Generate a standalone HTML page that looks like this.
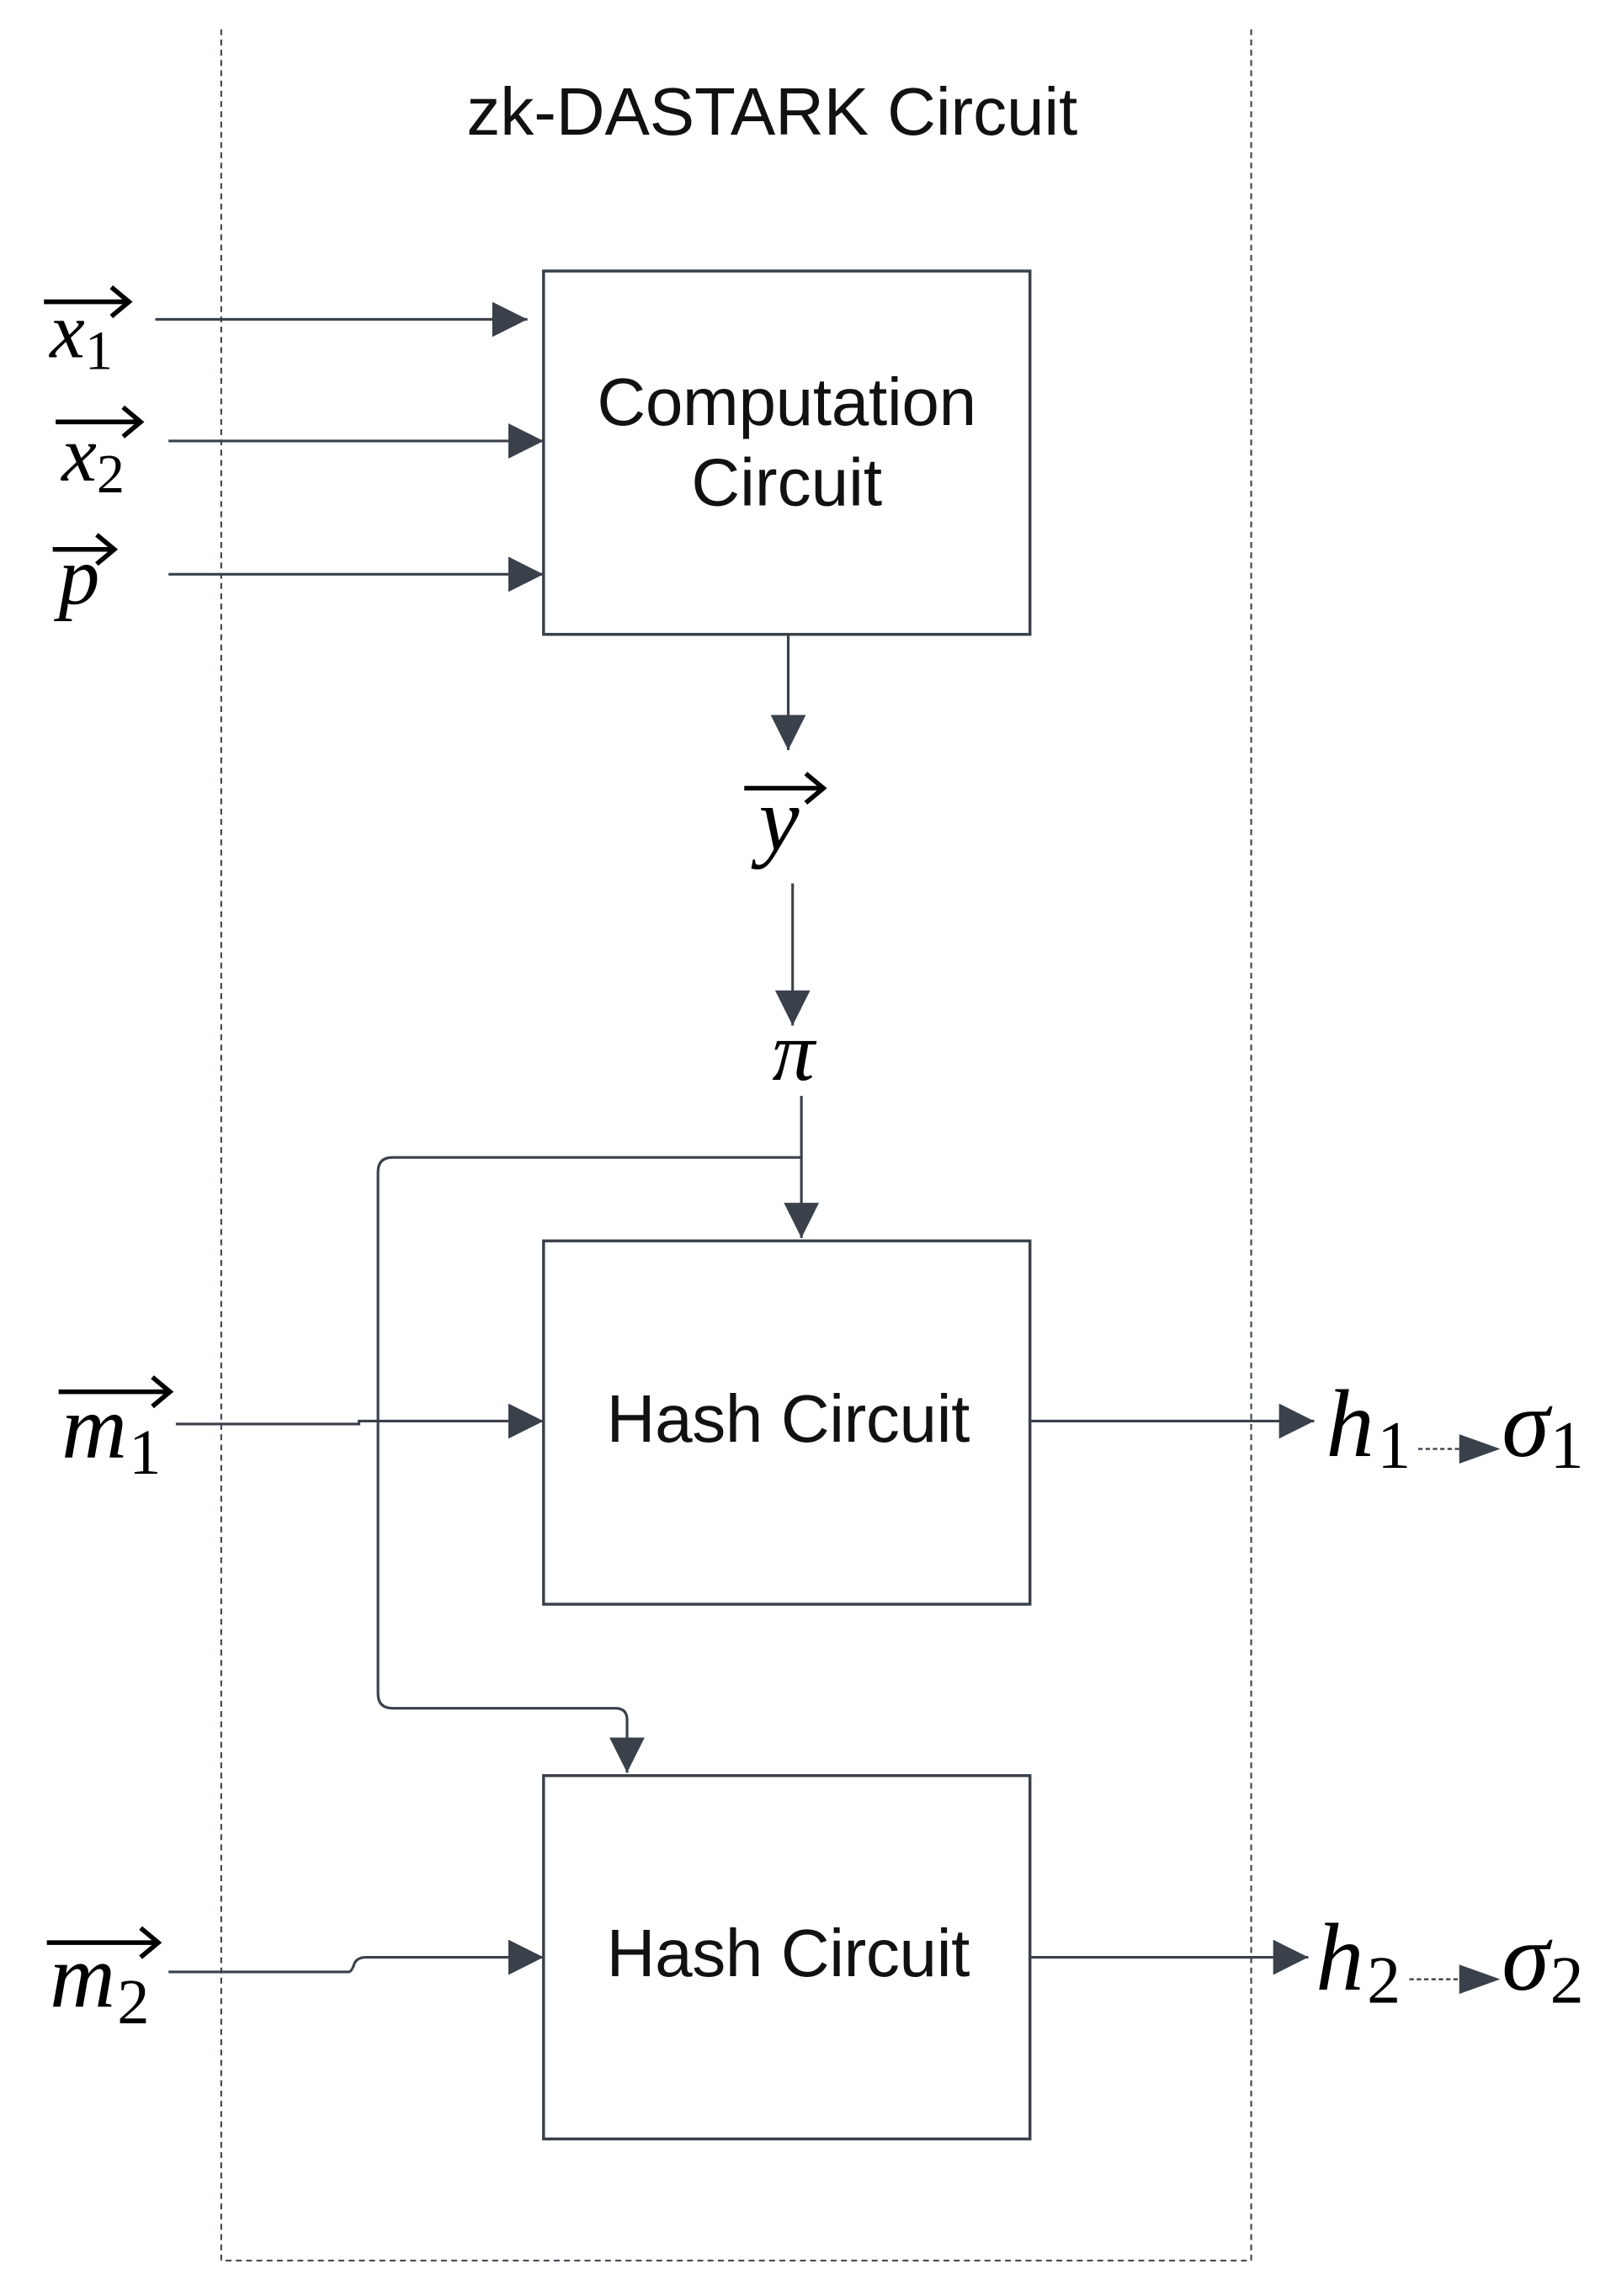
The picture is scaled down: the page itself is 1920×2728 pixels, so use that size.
<!DOCTYPE html>
<html><head><meta charset="utf-8"><style>
html,body{margin:0;padding:0;background:#fff;}
svg{display:block;}
.s{font-family:"Liberation Sans",sans-serif;fill:#111;}
.m{font-family:"Liberation Serif",serif;font-style:italic;fill:#000;}
.n{font-family:"Liberation Serif",serif;fill:#000;}
</style></head><body>
<svg width="1920" height="2728" viewBox="0 0 1103 1567.2" preserveAspectRatio="none" xmlns="http://www.w3.org/2000/svg">
<defs>
<marker id="A" viewBox="0 0 10 10" refX="10" refY="5" markerWidth="30" markerHeight="24" markerUnits="userSpaceOnUse" orient="auto"><path d="M0,0 L10,5 L0,10 z" fill="#3a414b"/></marker>
</defs>
<g stroke="#3a414b" stroke-width="1.2" fill="none" stroke-dasharray="4,3">
<path d="M151,20 V1543 H854 V20"/>
</g>
<text class="s" x="527" y="92" font-size="46" text-anchor="middle" textLength="417">zk-DASTARK Circuit</text>
<g stroke="#3a414b" stroke-width="2" fill="none">
<rect x="371" y="185" width="332" height="248"/>
<rect x="371" y="847" width="332" height="248"/>
<rect x="371" y="1212" width="332" height="248"/>
</g>
<text class="s" x="537" y="290" font-size="46" text-anchor="middle" textLength="259">Computation</text>
<text class="s" x="537" y="345" font-size="46" text-anchor="middle">Circuit</text>
<text class="s" x="538" y="984" font-size="46" text-anchor="middle" textLength="248">Hash Circuit</text>
<text class="s" x="538" y="1349" font-size="46" text-anchor="middle" textLength="248">Hash Circuit</text>
<g stroke="#3a414b" stroke-width="1.8" fill="none">
<path d="M106,218 H360" marker-end="url(#A)"/>
<path d="M115,301 H371" marker-end="url(#A)"/>
<path d="M115,392 H371" marker-end="url(#A)"/>
<path d="M538,433 V512" marker-end="url(#A)"/>
<path d="M541,603 V700" marker-end="url(#A)"/>
<path d="M547,748 V845" marker-end="url(#A)"/>
<path d="M547,790 H268 Q258,790 258,800 V1156 Q258,1166 268,1166 H420 Q428,1166 428,1174 V1210" marker-end="url(#A)"/>
<path d="M120,972 H245 V970 H371" marker-end="url(#A)"/>
<path d="M115,1346 H238 Q240,1346 242,1340 Q244,1336 250,1336 H371" marker-end="url(#A)"/>
<path d="M703,970 H897" marker-end="url(#A)"/>
<path d="M703,1336 H893" marker-end="url(#A)"/>
</g>
<g stroke="#3a414b" stroke-width="1.4" fill="none" stroke-dasharray="3,2">
<path d="M968,989 H1000"/>
<path d="M962,1351 H1000"/>
</g>
<g fill="#3a414b">
<path d="M996,979 L1024,989 L996,999 z"/>
<path d="M996,1341 L1024,1351 L996,1361 z"/>
</g>
<g stroke="#000" stroke-width="3.2" fill="none" stroke-linecap="butt">
<path d="M30,206 H86 M76,196 L88,206 L76,216"/>
<path d="M38,288 H94 M84,278 L96,288 L84,298"/>
<path d="M36,375 H76 M66,365 L78,375 L66,385"/>
<path d="M508,538 H560 M550,528 L562,538 L550,548"/>
<path d="M40,950 H114 M104,940 L116,950 L104,960"/>
<path d="M32,1326 H106 M96,1316 L108,1326 L96,1336"/>
</g>
<text class="m" x="34" y="244" font-size="54">x</text><text class="n" x="58" y="252" font-size="38">1</text>
<text class="m" x="42" y="328" font-size="54">x</text><text class="n" x="66" y="336" font-size="38">2</text>
<text class="m" x="40" y="412" font-size="56">p</text>
<text class="m" x="518" y="580" font-size="62">y</text>
<text class="m" x="527" y="737" font-size="58">π</text>
<text class="m" x="42" y="995" font-size="62">m</text><text class="n" x="88" y="1006" font-size="44">1</text>
<text class="m" x="34" y="1370" font-size="62">m</text><text class="n" x="80" y="1381" font-size="44">2</text>
<text class="m" x="905" y="994" font-size="66">h</text><text class="n" x="940" y="1002" font-size="46">1</text>
<text class="m" x="1025" y="994" font-size="66">σ</text><text class="n" x="1058" y="1002" font-size="46">1</text>
<text class="m" x="898" y="1358" font-size="66">h</text><text class="n" x="933" y="1367" font-size="46">2</text>
<text class="m" x="1025" y="1358" font-size="66">σ</text><text class="n" x="1058" y="1367" font-size="46">2</text>
</svg>
</body></html>
